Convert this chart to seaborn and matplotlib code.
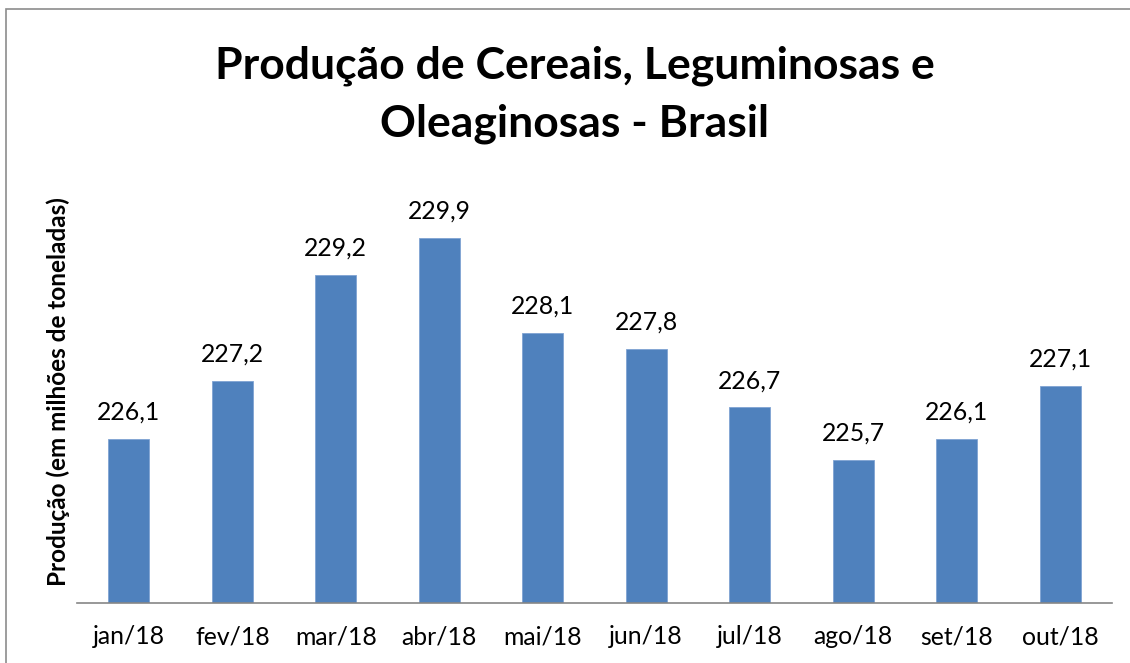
import pandas as pd
import seaborn as sns
import matplotlib.pyplot as plt
from matplotlib.patches import Rectangle

meses = ['jan/18', 'fev/18', 'mar/18', 'abr/18', 'mai/18',
         'jun/18', 'jul/18', 'ago/18', 'set/18', 'out/18']
producao = [226.1, 227.2, 229.2, 229.9, 228.1, 227.8, 226.7, 225.7, 226.1, 227.1]
titulo = ['Produção de Cereais, Leguminosas e', 'Oleaginosas - Brasil']

data = pd.DataFrame({'mes': meses, 'producao': producao})

sns.set_style('white')
plt.rcParams['font.family'] = ['Lato', 'DejaVu Sans']

W, H = 1130, 663
fig = plt.figure(figsize=(W / 100, H / 100), dpi=100)
ax = fig.add_axes([77 / W, 1 - 603 / H, (1112 - 77) / W, (603 - 180) / H])

sns.barplot(x='mes', y='producao', data=data, color='#4F81BD', width=0.4,
            saturation=1, edgecolor='#7FA3D3', linewidth=0.6, ax=ax)

ax.set_ylim(223, 231)
ax.set_xlim(-0.5, len(meses) - 0.5)

# rótulos de dados com vírgula
ax.bar_label(ax.containers[0], labels=[f'{v:.1f}'.replace('.', ',') for v in producao],
             padding=11, fontsize=17.8, color='black')

ax.set_yticks([])
ax.set_xlabel('')
ax.set_ylabel('Produção (em milhões de toneladas)', fontsize=17.5, fontweight='bold', color='black')
ax.yaxis.set_label_coords(-7 / 1035, 0.5)
ax.tick_params(axis='x', length=0, pad=16, labelsize=17.8, labelcolor='black')

for s in ['top', 'right', 'left']:
    ax.spines[s].set_visible(False)
ax.spines['bottom'].set_color('#868686')
ax.spines['bottom'].set_linewidth(1.2)

# título em duas linhas
fig.text(574.5 / W, 1 - 78 / H, titulo[0], ha='center', va='baseline',
         fontsize=32, fontweight='bold', color='black')
fig.text(574.5 / W, 1 - 136 / H, titulo[1], ha='center', va='baseline',
         fontsize=32, fontweight='bold', color='black')

# moldura do gráfico
fig.patches.append(Rectangle((6 / W, -0.1), 1.2, 1 - 9 / H + 0.1, transform=fig.transFigure,
                             fill=False, edgecolor='#8C8C8C', linewidth=1.2))

fig.savefig('out.png', dpi=100)
